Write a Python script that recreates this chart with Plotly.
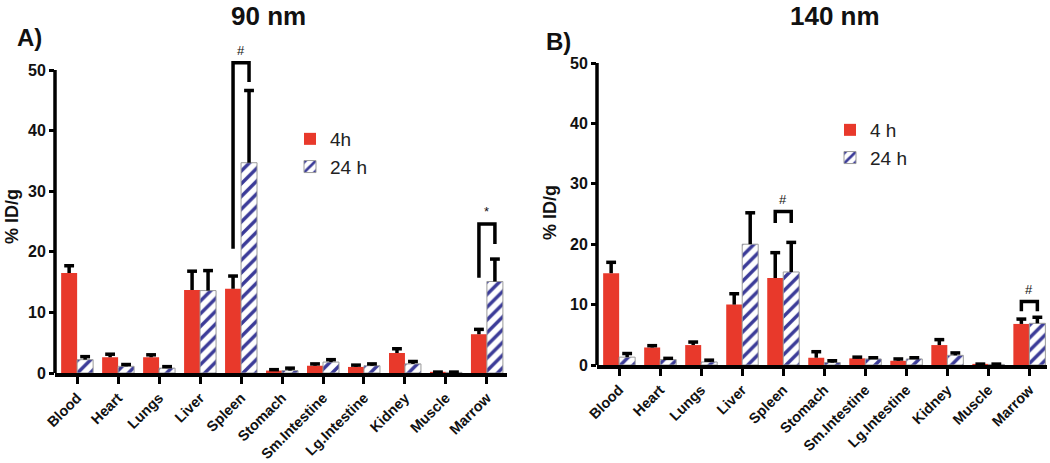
import plotly.graph_objects as go

# ---------------- data ----------------
categories = ['Blood', 'Heart', 'Lungs', 'Liver', 'Spleen', 'Stomach',
              'Sm.Intestine', 'Lg.Intestine', 'Kidney', 'Muscle', 'Marrow']

# Panel A (90 nm)
a_4h = [16.5, 2.6, 2.6, 13.7, 13.9, 0.4, 1.2, 1.0, 3.3, 0.1, 6.4]
a_4h_err = [1.2, 0.5, 0.4, 3.1, 2.1, 0.15, 0.3, 0.3, 0.7, 0.05, 0.8]
a_24h = [2.2, 1.1, 0.8, 13.6, 34.7, 0.4, 1.8, 1.2, 1.5, 0.1, 15.1]
a_24h_err = [0.5, 0.3, 0.25, 3.3, 11.9, 0.4, 0.4, 0.3, 0.4, 0.05, 3.7]
a_sig_cat = ['Spleen', 'Marrow']
a_sig_mark = ['#', '*']
a_sig_top = [51.2, 24.6]
a_sig_left = [20.5, 15.7]
a_sig_right = [48.0, 21.3]

# Panel B (140 nm)
b_4h = [15.2, 2.9, 3.3, 10.0, 14.4, 1.2, 1.1, 0.7, 3.3, 0.1, 6.8]
b_4h_err = [1.8, 0.3, 0.5, 1.8, 4.2, 1.0, 0.2, 0.3, 0.9, 0.05, 0.8]
b_24h = [1.3, 0.9, 0.5, 20.0, 15.4, 0.4, 1.0, 1.0, 1.6, 0.1, 6.9]
b_24h_err = [0.6, 0.2, 0.3, 5.2, 4.9, 0.3, 0.2, 0.2, 0.4, 0.05, 1.0]
b_sig_cat = ['Spleen', 'Marrow']
b_sig_mark = ['#', '#']
b_sig_top = [25.4, 10.5]
b_sig_left = [23.5, 8.9]
b_sig_right = [23.5, 8.9]

yticks = [0, 10, 20, 30, 40, 50]

# ---------------- style ----------------
RED = '#e8392b'
NAVY = '#3b3b98'
FONT = 'Liberation Sans, Arial, sans-serif'
BW = 0.39          # bar width (category units)
OFF = BW / 2       # bar centre offset
CAP = 0.12         # error cap half width
LW = 3.5

fig = go.Figure()


def add_panel(xa, ya, v4, e4, v24, e24, n4, n24, legend,
              sig_cat, sig_mark, sig_top, sig_left, sig_right):
    idx = list(range(len(categories)))
    x4 = [i - OFF for i in idx]
    x24 = [i + OFF for i in idx]
    fig.add_trace(go.Bar(x=x4, y=v4, width=BW, name=n4, xaxis=xa, yaxis=ya,
                         legend=legend,
                         marker=dict(color=RED, line=dict(width=0)),
                         hoverinfo='skip'))
    fig.add_trace(go.Bar(x=x24, y=v24, width=BW, name=n24, xaxis=xa, yaxis=ya,
                         legend=legend,
                         marker=dict(color='white',
                                     line=dict(color='#9a9a9a', width=1),
                                     pattern=dict(shape='/', fgcolor=NAVY,
                                                  bgcolor='white', size=9,
                                                  solidity=0.38,
                                                  fillmode='replace')),
                         hoverinfo='skip'))
    # error bars (upper only)
    ex, ey = [], []
    for xs, vs, es in ((x4, v4, e4), (x24, v24, e24)):
        for x, v, e in zip(xs, vs, es):
            ex += [x, x, None, x - CAP, x + CAP, None]
            ey += [v, v + e, None, v + e, v + e, None]
    fig.add_trace(go.Scatter(x=ex, y=ey, mode='lines', xaxis=xa, yaxis=ya,
                             line=dict(color='black', width=LW),
                             showlegend=False, hoverinfo='skip'))
    # significance brackets
    bx, by = [], []
    for c, m, t, l, r in zip(sig_cat, sig_mark, sig_top, sig_left, sig_right):
        i = categories.index(c)
        bx += [i - OFF, i - OFF, i + OFF, i + OFF, None]
        by += [l, t, t, r, None]
        fig.add_annotation(x=i, y=t, xref=xa, yref=ya, text=m, showarrow=False,
                           yanchor='bottom', yshift=3,
                           font=dict(family=FONT, size=13, color='#111'))
    fig.add_trace(go.Scatter(x=bx, y=by, mode='lines', xaxis=xa, yaxis=ya,
                             line=dict(color='black', width=LW),
                             showlegend=False, hoverinfo='skip'))
    # y axis line from 0 to 50
    fig.add_shape(type='line', xref=xa + ' domain', yref=ya,
                  x0=0, x1=0, y0=0, y1=yticks[-1],
                  line=dict(color='black', width=LW))


add_panel('x', 'y', a_4h, a_4h_err, a_24h, a_24h_err, '4h', '24 h', 'legend',
          a_sig_cat, a_sig_mark, a_sig_top, a_sig_left, a_sig_right)
add_panel('x2', 'y2', b_4h, b_4h_err, b_24h, b_24h_err, '4 h', '24 h', 'legend2',
          b_sig_cat, b_sig_mark, b_sig_top, b_sig_left, b_sig_right)

W, H = 1050, 463


def xaxis(dom, rng, anchor):
    return dict(domain=dom, range=rng, anchor=anchor, tickmode='array',
                tickvals=list(range(len(categories))), ticktext=categories,
                tickangle=-45, ticks='outside', ticklen=7, tickwidth=3,
                tickcolor='black', showline=True, linecolor='black',
                linewidth=LW, showgrid=False, zeroline=False, automargin=False,
                tickfont=dict(family=FONT, size=14.5, color='#111',
                              weight='bold'))


def yaxis(dom, anchor):
    return dict(domain=dom, range=[0, 53], anchor=anchor, tickmode='array',
                tickvals=yticks, ticks='outside', ticklen=5, tickwidth=2.5,
                tickcolor='black', showline=False, showgrid=False,
                zeroline=False, automargin=False,
                tickfont=dict(family=FONT, size=16, color='#111', weight='bold'))


# left: y0 at 373 px, 6.06 px/unit; right: y0 at 365 px, 6.04 px/unit
fig.update_layout(
    width=W, height=H, margin=dict(l=0, r=0, t=0, b=0, autoexpand=False),
    paper_bgcolor='white', plot_bgcolor='white', barmode='overlay',
    xaxis=xaxis([55 / W, 507 / W], [-0.54, 10.49], 'y'),
    yaxis=yaxis([1 - 373 / H, 1 - (373 - 53 * 6.06) / H], 'x'),
    xaxis2=xaxis([597 / W, 1047 / W], [-0.54, 10.43], 'y2'),
    yaxis2=yaxis([1 - 365 / H, 1 - (365 - 53 * 6.04) / H], 'x2'),
    legend=dict(x=290 / W, y=1 - 120 / H, xanchor='left', yanchor='top',
                bgcolor='rgba(0,0,0,0)', tracegroupgap=0,
                font=dict(family=FONT, size=19, color='#222')),
    legend2=dict(x=830 / W, y=1 - 111 / H, xanchor='left', yanchor='top',
                 bgcolor='rgba(0,0,0,0)', tracegroupgap=0,
                 font=dict(family=FONT, size=19, color='#222')),
    showlegend=True,
)

txt = [
    ('90 nm', 268, 16, 26, 0),
    ('140 nm', 835, 16, 26, 0),
    ('A)', 29, 37, 24, 0),
    ('B)', 558, 42, 24, 0),
    ('% ID/g', 12, 217, 18, -90),
    ('% ID/g', 550, 213, 18, -90),
]
for t, x, y, s, ang in txt:
    fig.add_annotation(x=x / W, y=1 - y / H, xref='paper', yref='paper',
                       text=t, showarrow=False, textangle=ang,
                       xanchor='center', yanchor='middle',
                       font=dict(family=FONT, size=s, color='#111',
                                 weight='bold'))

fig.write_html('out.html',
               config={'displayModeBar': False},
               post_script="document.body.style.margin='0';"
                           "document.body.style.overflow='hidden';")
